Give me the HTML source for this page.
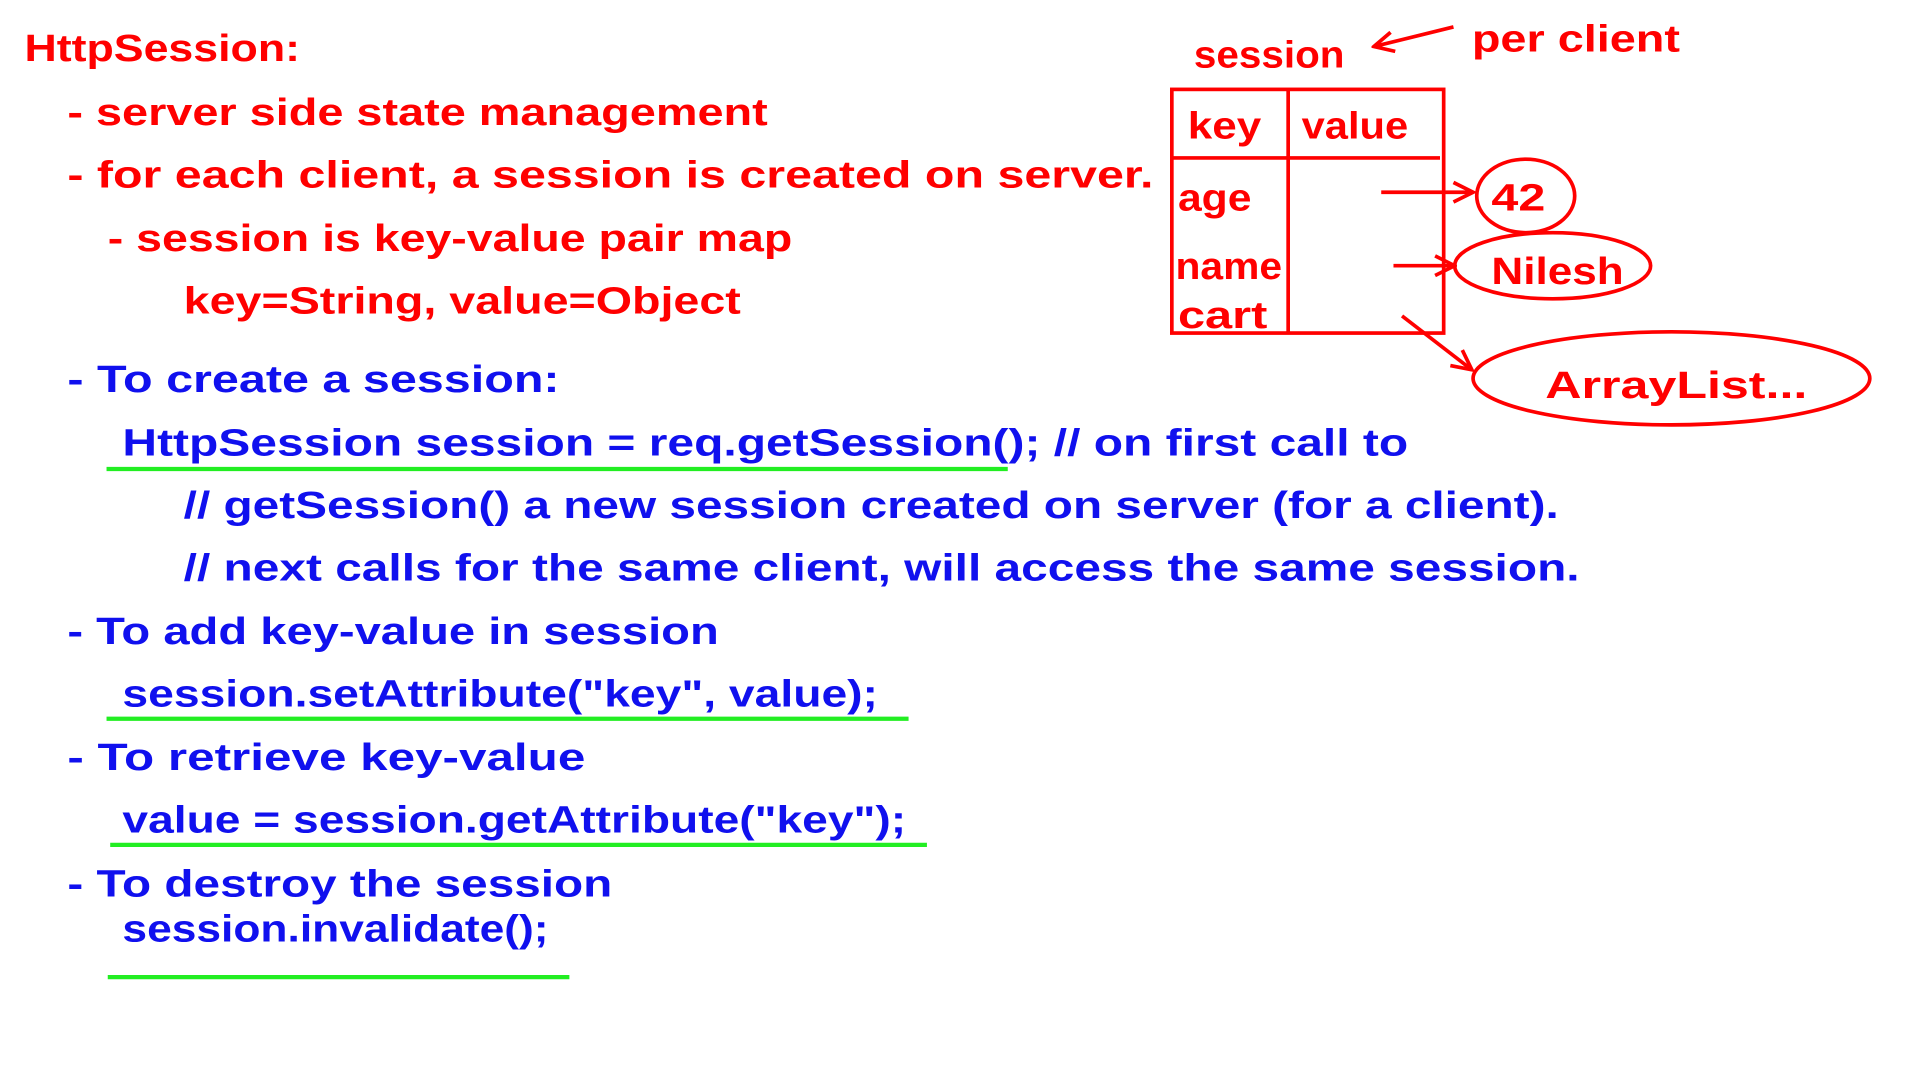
<!DOCTYPE html>
<html><head><meta charset="utf-8"><style>
html,body{margin:0;padding:0;background:#fff;width:1920px;height:1080px;overflow:hidden}
svg{display:block}
text{font-family:"Liberation Sans",sans-serif;font-weight:bold;font-size:31px}
.r{fill:#ff0000}.b{fill:#1010ee}
</style></head><body>
<svg width="1920" height="1080" viewBox="0 0 1568 882" preserveAspectRatio="none">
<defs>
<marker id="ar2" markerWidth="20" markerHeight="20" refX="18" refY="10" orient="auto" markerUnits="userSpaceOnUse"><path d="M2,2 L18,10 L2,18" fill="none" stroke="#f00" stroke-width="3"/></marker></defs>
<g class="r">
<text x="20" y="50" textLength="225" lengthAdjust="spacingAndGlyphs">HttpSession:</text>
<text x="55" y="102" textLength="572" lengthAdjust="spacingAndGlyphs">-  server side state management</text>
<text x="55" y="153" textLength="887" lengthAdjust="spacingAndGlyphs">-  for each client, a session is created on server.</text>
<text x="88" y="205" textLength="559" lengthAdjust="spacingAndGlyphs">- session is key-value pair map</text>
<text x="150" y="256" textLength="455" lengthAdjust="spacingAndGlyphs">key=String, value=Object</text>
<text x="975" y="55" textLength="123" lengthAdjust="spacingAndGlyphs">session</text>
<text x="1202" y="42" textLength="170" lengthAdjust="spacingAndGlyphs">per client</text>
<text x="970" y="113" textLength="60" lengthAdjust="spacingAndGlyphs">key</text>
<text x="1063" y="113" textLength="87" lengthAdjust="spacingAndGlyphs">value</text>
<text x="962" y="172" textLength="60" lengthAdjust="spacingAndGlyphs">age</text>
<text x="960" y="228" textLength="87" lengthAdjust="spacingAndGlyphs">name</text>
<text x="962" y="268" textLength="73" lengthAdjust="spacingAndGlyphs">cart</text>
<text x="1218" y="172" textLength="44" lengthAdjust="spacingAndGlyphs">42</text>
<text x="1218" y="232" textLength="108" lengthAdjust="spacingAndGlyphs">Nilesh</text>
<text x="1262" y="325" textLength="214" lengthAdjust="spacingAndGlyphs">ArrayList...</text>
</g>
<g fill="none" stroke="#f00" stroke-width="3">
<rect x="957" y="73" width="222" height="199"/>
<line x1="1052" y1="73" x2="1052" y2="272"/>
<line x1="957" y1="129" x2="1176" y2="129"/>
<ellipse cx="1246" cy="160" rx="40" ry="30"/>
<ellipse cx="1268" cy="217" rx="80" ry="27"/>
<ellipse cx="1365" cy="309" rx="162" ry="38"/>
<line x1="1128" y1="157" x2="1203" y2="157" marker-end="url(#ar2)"/>
<line x1="1138" y1="217" x2="1188" y2="217" marker-end="url(#ar2)"/>
<line x1="1145" y1="258" x2="1202" y2="302" marker-end="url(#ar2)"/>
<line x1="1187" y1="22" x2="1122" y2="38" marker-end="url(#ar2)"/>
</g>
<g class="b">
<text x="55" y="320" textLength="402" lengthAdjust="spacingAndGlyphs">-  To create a session:</text>
<text x="100" y="372" textLength="1050" lengthAdjust="spacingAndGlyphs">HttpSession session = req.getSession(); // on first call to</text>
<text x="150" y="423" textLength="1123" lengthAdjust="spacingAndGlyphs">// getSession() a new session created on server (for a client).</text>
<text x="150" y="474" textLength="1140" lengthAdjust="spacingAndGlyphs">// next calls for the same client, will access the same session.</text>
<text x="55" y="526" textLength="532" lengthAdjust="spacingAndGlyphs">-  To add key-value in session</text>
<text x="100" y="577" textLength="617" lengthAdjust="spacingAndGlyphs">session.setAttribute("key", value);</text>
<text x="55" y="629" textLength="423" lengthAdjust="spacingAndGlyphs">-  To retrieve key-value</text>
<text x="100" y="680" textLength="640" lengthAdjust="spacingAndGlyphs">value = session.getAttribute("key");</text>
<text x="55" y="732" textLength="445" lengthAdjust="spacingAndGlyphs">-  To destroy the session</text>
<text x="100" y="769" textLength="348" lengthAdjust="spacingAndGlyphs">session.invalidate();</text>
</g>
<g stroke="#22ee22" stroke-width="3.5">
<line x1="87" y1="383" x2="823" y2="383"/>
<line x1="87" y1="587" x2="742" y2="587"/>
<line x1="90" y1="690" x2="757" y2="690"/>
<line x1="88" y1="798" x2="465" y2="798"/>
</g>
</svg>
</body></html>
